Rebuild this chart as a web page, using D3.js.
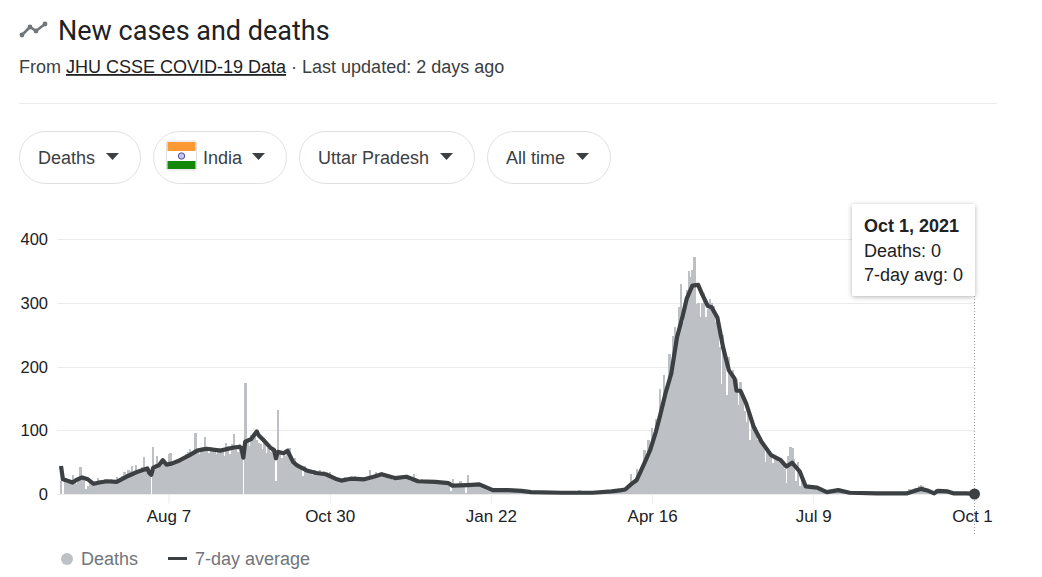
<!DOCTYPE html>
<html>
<head>
<meta charset="utf-8">
<title>New cases and deaths</title>
<script src="https://cdnjs.cloudflare.com/ajax/libs/d3/7.8.5/d3.min.js"></script>
<style>
html,body{margin:0;padding:0;background:#fff}
svg{display:block}
text{font-family:"Liberation Sans",Arial,sans-serif}
.rb{font-family:Roboto,sans-serif}
</style>
</head>
<body>
<svg id="c" width="1042" height="577"></svg>
<script>
const startDate = "2020-06-12";
const dailyDeaths = [
20,0,19,18,22,18,30,22,16,20,
43,26,24,8,12,22,16,15,18,25,
22,16,19,24,20,17,24,18,20,26,
22,25,28,34,32,38,36,44,34,46,
36,38,42,58,40,36,34,0,73,44,
60,44,46,50,52,46,62,64,46,50,
48,54,52,56,58,62,66,70,60,66,
95,66,62,70,68,90,72,64,74,70,
68,62,72,66,70,60,80,76,62,78,
94,76,66,78,60,0,174,84,76,92,
90,98,84,80,78,70,84,64,72,66,
70,62,20,132,64,56,66,60,64,72,
56,50,56,44,44,42,28,44,38,36,
36,30,38,32,36,38,30,36,30,26,
34,24,28,22,20,22,18,22,26,24,
20,26,22,28,24,22,20,24,26,22,
26,38,28,24,35,30,32,34,30,26,
28,24,26,22,28,26,24,28,26,24,
26,24,20,26,31,22,20,18,24,20,
17,20,18,22,16,20,17,15,20,18,
14,16,14,4,23,14,12,16,21,14,
16,2,30,12,14,16,18,13,14,12,
10,8,7,8,6,7,5,7,6,5,
7,6,5,7,6,5,6,4,5,6,
5,3,4,3,2,3,2,3,2,2,
1,2,3,2,1,2,2,3,2,1,
2,1,3,2,4,1,2,2,5,2,
6,3,2,1,2,2,3,1,2,3,
2,3,4,3,4,4,5,4,6,5,
6,7,5,8,9,10,12,32,18,20,
40,30,42,38,69,60,84,70,103,88,
118,108,165,125,186,150,160,220,200,248,
262,240,293,330,270,295,320,350,340,351,
371,298,300,277,300,316,277,290,306,300,
295,270,280,230,173,250,225,155,215,190,
195,170,180,139,175,150,130,113,140,84,
118,100,105,85,90,78,80,50,70,60,
65,48,60,55,50,56,48,40,17,60,
74,72,55,20,50,12,22,16,10,12,
14,10,9,12,8,10,7,6,4,5,
4,3,5,6,4,7,6,5,3,4,
3,2,3,2,3,2,3,2,1,2,
2,1,2,3,2,1,2,2,1,2,
1,2,3,2,1,3,2,1,2,3,
3,5,8,6,7,10,9,13,14,12,
7,8,4,6,2,1,8,6,4,5,
5,6,4,3,2,2,1,1,2,1,
1,2,1,0,1,0,0
];
const avgDays = [0,1,3,6,8,11,14,17,20,24,29,34,37,40,43,45,46,47,48,50,51,53,55,58,62,67,71,74,76,83,90,93,94,95,96,99,101,102,103,106,109,111,112,113,116,118,119,121,123,128,133,138,143,146,151,158,163,167,174,180,186,195,202,204,212,218,225,233,240,245,261,277,287,292,294,297,300,302,305,307,310,312,315,318,321,324,326,329,332,334,337,339,342,345,348,351,352,354,357,361,365,370,375,378,381,385,388,394,399,405,411,425,441,445,448,452,455,457,462,465,472,476];
const avgValues = [44,23,21,18,22,26,23,16,18,20,19,27,31,35,38,40,33,30,41,44,45,53,46,48,53,61,68,70,71,68,73,74,72,57,82,86,94,98,92,83,73,69,56,66,64,68,62,50,45,37,33,31,24,21,24,23,27,31,25,27,20,19,17,13,14,15,6,6,5,3,2,2,4,6,7,15,22,35,55,69,98,121,158,189,246,280,306,327,328,314,295,293,277,230,194,181,162,162,142,105,82,61,53,43,49,35,12,10,3,6,2,1,1,5,8,5,1,5,4,1,1,0];
const yTicks = [0,100,200,300,400];
const xTickDates = ["2020-08-07","2020-10-30","2021-01-22","2021-04-16","2021-07-09","2021-10-01"];
const xTickLabels = ["Aug 7","Oct 30","Jan 22","Apr 16","Jul 9","Oct 1"];
const filterLabels = ["Deaths","India","Uttar Pradesh","All time"];
const tooltipLines = ["Oct 1, 2021","Deaths: 0","7-day avg: 0"];
const legendLabels = ["Deaths","7-day average"];

const BAR="#bdc1c6", LINE="#3c4043";
const svg=d3.select("#c");
const parse=d3.utcParse("%Y-%m-%d");
const d0=parse(startDate);
const dates=dailyDeaths.map((_,i)=>d3.utcDay.offset(d0,i));
const x=d3.scaleUtc().domain([d0,parse("2021-10-01")]).range([61,974.5]);
const y=d3.scaleLinear().domain([0,400]).range([494,239]);
const bw=(x(dates[1])-x(dates[0]));

const defs=svg.append("defs");
const f=defs.append("filter").attr("id","sh").attr("x","-20%").attr("y","-20%").attr("width","140%").attr("height","140%");
f.append("feDropShadow").attr("dx",0).attr("dy",1).attr("stdDeviation",2.5).attr("flood-color","#000").attr("flood-opacity",.3);

const ico=svg.append("g");
ico.append("path").attr("d",d3.line()([[22,35],[30,27],[36,31],[45,24]])).attr("fill","none").attr("stroke","#70757a").attr("stroke-width",2.6);
ico.selectAll("circle").data([[22,35],[30,27],[36,31],[45,24]]).join("circle").attr("cx",d=>d[0]).attr("cy",d=>d[1]).attr("r",2.4).attr("fill","#70757a");
svg.append("text").attr("class","rb").attr("x",58).attr("y",40).attr("font-size",27).attr("fill","#202124").text("New cases and deaths");
const sub=svg.append("text").attr("x",19).attr("y",73).attr("font-size",18).attr("fill","#3c4043");
sub.append("tspan").text("From ");
sub.append("tspan").attr("fill","#202124").attr("text-decoration","underline").text("JHU CSSE COVID-19 Data");
sub.append("tspan").text(" · Last updated: 2 days ago");
svg.append("line").attr("x1",19).attr("x2",997).attr("y1",103.5).attr("y2",103.5).attr("stroke","#ebebeb");

const pills=[[19.5,121,38],[153.5,133,203],[299.5,175,318],[487.5,123,506]];
pills.forEach((p,i)=>{
  svg.append("rect").attr("x",p[0]).attr("y",131.5).attr("width",p[1]).attr("height",52).attr("rx",26).attr("fill","#fff").attr("stroke","#dfe1e5");
  svg.append("text").attr("x",p[2]).attr("y",163.5).attr("font-size",18).attr("fill","#3c4043").text(filterLabels[i]);
  const cx=p[0]+p[1]-28;
  svg.append("path").attr("d",`M${cx-6.5},153L${cx+6.5},153L${cx},160Z`).attr("fill","#3c4043");
});
const flag=svg.append("g");
flag.append("rect").attr("x",166.5).attr("y",141).attr("width",30).attr("height",29).attr("rx",2).attr("fill","#fff").attr("stroke","#e0e0e0");
flag.append("rect").attr("x",167.5).attr("y",142).attr("width",28).attr("height",9).attr("fill","#ff9933");
flag.append("rect").attr("x",167.5).attr("y",161).attr("width",28).attr("height",8).attr("fill","#138808");
flag.append("circle").attr("cx",181.5).attr("cy",156).attr("r",3.2).attr("fill","#c5c5e8").attr("stroke","#4a4a9c").attr("stroke-width",1);

svg.append("g").selectAll("line").data(yTicks).join("line")
  .attr("x1",57).attr("x2",975).attr("y1",d=>Math.round(y(d))+.5).attr("y2",d=>Math.round(y(d))+.5).attr("stroke","#ebebeb");
svg.append("g").selectAll("text").data(yTicks).join("text")
  .attr("x",48).attr("y",d=>y(d)+6).attr("text-anchor","end").attr("font-size",16.5).attr("fill","#202124").text(d=>d);

const xAxis=d3.axisBottom(x).tickValues(xTickDates.map(parse)).tickFormat((d,i)=>xTickLabels[i]).tickSize(9).tickPadding(6);
const gx=svg.append("g").attr("transform","translate(0,494.5)").call(xAxis);
gx.select(".domain").remove();
gx.selectAll("line").attr("stroke","#ebebeb");
gx.selectAll("text").attr("font-size",17).attr("fill","#202124").attr("font-family",'"Liberation Sans",Arial,sans-serif')
  .attr("dx",(d,i)=>i===xTickLabels.length-1?-2.5:0);

svg.append("g").attr("shape-rendering","crispEdges").selectAll("rect").data(dailyDeaths).join("rect")
  .attr("x",(d,i)=>x(dates[i])-bw/2).attr("width",bw+.4)
  .attr("y",d=>y(d)).attr("height",d=>y(0)-y(d)).attr("fill",BAR);

svg.append("line").attr("x1",974.5).attr("x2",974.5).attr("y1",296).attr("y2",534).attr("stroke","#9aa0a6").attr("stroke-dasharray","1 2");

const line=d3.line().x((d,i)=>x(d3.utcDay.offset(d0,avgDays[i]))).y(d=>y(d)).curve(d3.curveLinear);
svg.append("path").attr("d",line(avgValues)).attr("fill","none").attr("stroke",LINE).attr("stroke-width",4.2).attr("stroke-linejoin","round");
svg.append("circle").attr("cx",x(dates[dates.length-1])).attr("cy",y(avgValues[avgValues.length-1])).attr("r",5.5).attr("fill",LINE);

svg.append("rect").attr("x",852).attr("y",204).attr("width",123).attr("height",92).attr("rx",2).attr("fill","#fff").attr("filter","url(#sh)");
tooltipLines.forEach((t,i)=>{
  svg.append("text").attr("x",864).attr("y",232+i*24.5).attr("font-size",18).attr("font-weight",i?400:700).attr("fill","#202124").text(t);
});

svg.append("circle").attr("cx",67).attr("cy",559).attr("r",6).attr("fill",BAR);
svg.append("text").attr("x",81).attr("y",565).attr("font-size",18).attr("fill","#70757a").text(legendLabels[0]);
svg.append("line").attr("x1",168).attr("x2",187).attr("y1",558.5).attr("y2",558.5).attr("stroke",LINE).attr("stroke-width",3);
svg.append("text").attr("x",195).attr("y",565).attr("font-size",18).attr("fill","#70757a").text(legendLabels[1]);
</script>
</body>
</html>
